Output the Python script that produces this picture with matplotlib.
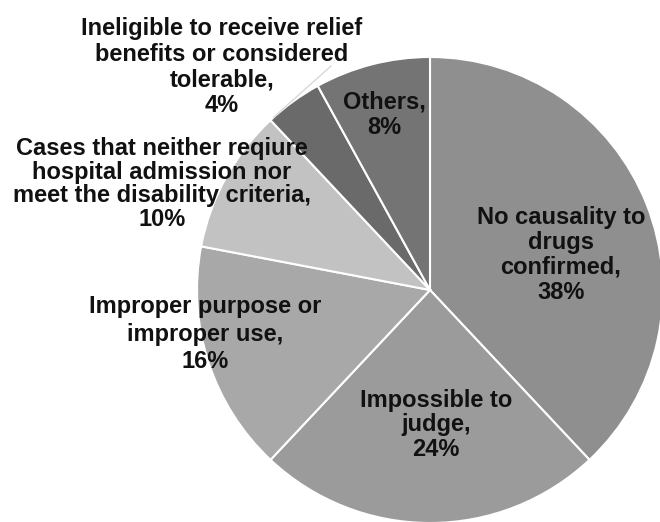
import numpy as np
import matplotlib.pyplot as plt

plt.rcParams['font.family'] = ['Liberation Sans', 'DejaVu Sans']

# slice data, clockwise from 12 o'clock
categories = [
    "No causality to\ndrugs\nconfirmed",
    "Impossible to\njudge",
    "Improper purpose or\nimproper use",
    "Cases that neither reqiure\nhospital admission nor\nmeet the disability criteria",
    "Ineligible to receive relief\nbenefits or considered\ntolerable",
    "Others",
]
percents = [38, 24, 16, 10, 4, 8]
colors = ["#8f8f8f", "#9b9b9b", "#a8a8a8", "#c2c2c2", "#6a6a6a", "#747474"]

# label centres in pixel coords (from the top-left corner)
label_pos = [(561, 255), (436, 425), (205, 334), (162, 184), (222, 67), (384, 115)]
label_spacing = [1.1, 1.1, 1.25, 1.02, 1.15, 1.15]

W, H = 660, 522
fig = plt.figure(figsize=(6.6, 5.22), dpi=100)
ax = fig.add_axes([0, 0, 1, 1])

cx, cy, r = 430, H - 290, 233
wedges, _ = ax.pie(percents, colors=colors, startangle=90, counterclock=False,
                   center=(cx, cy), radius=r, frame=True,
                   wedgeprops=dict(edgecolor='white', linewidth=1.5))
ax.set_xlim(0, W)
ax.set_ylim(0, H)
ax.set_aspect('equal')
ax.axis('off')

for cat, pct, (x, y), ls in zip(categories, percents, label_pos, label_spacing):
    ax.text(x, H - y, f"{cat},\n{pct}%", ha='center', va='center',
            fontsize=17, fontweight='bold', color='#111111', linespacing=ls)

# leader line for the small 4% slice, ending at its outer edge
w = wedges[4]
ang = np.deg2rad(w.theta2 - 1)
ex, ey = cx + r * np.cos(ang), cy + r * np.sin(ang)
ax.plot([ex, 331], [ey, H - 66], color='#d9d9d9', lw=1)

fig.savefig('out.png', dpi=100)
